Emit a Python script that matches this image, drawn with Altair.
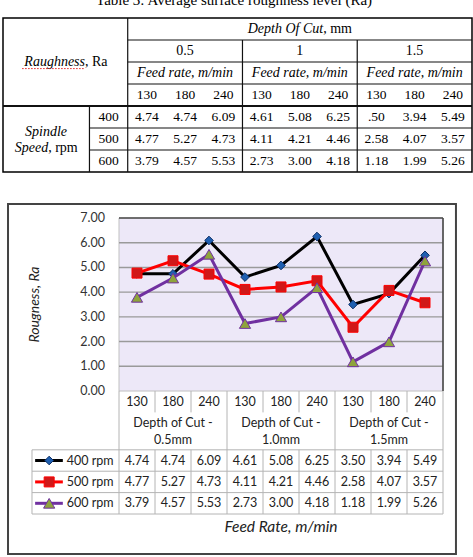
import altair as alt
import pandas as pd

# ---------------- data ----------------
depths = ["0.5", "1", "1.5"]
feed_rates = ["130", "180", "240"]
speeds = ["400 rpm", "500 rpm", "600 rpm"]
speed_numbers = ["400", "500", "600"]
ra_400 = [4.74, 4.74, 6.09, 4.61, 5.08, 6.25, 3.50, 3.94, 5.49]
ra_500 = [4.77, 5.27, 4.73, 4.11, 4.21, 4.46, 2.58, 4.07, 3.57]
ra_600 = [3.79, 4.57, 5.53, 2.73, 3.00, 4.18, 1.18, 1.99, 5.26]
top_row_400 = ["4.74", "4.74", "6.09", "4.61", "5.08", "6.25", ".50", "3.94", "5.49"]
top_row_500 = ["4.77", "5.27", "4.73", "4.11", "4.21", "4.46", "2.58", "4.07", "3.57"]
top_row_600 = ["3.79", "4.57", "5.53", "2.73", "3.00", "4.18", "1.18", "1.99", "5.26"]
y_ticks = [0, 1, 2, 3, 4, 5, 6, 7]
depth_axis_labels = ["0.5mm", "1.0mm", "1.5mm"]

series_colors = ["#000000", "#ff0000", "#7030a0"]
marker_fill = ["#1f5fb0", "#d01818", "#8ea43c"]
marker_stroke = ["#0e2f66", "#ff0000", "#7030a0"]
marker_shapes = ["diamond", "square", "triangle-up"]
marker_sizes = [75, 125, 100]

SERIF = "Liberation Serif"
SANS = "Lato"
FS = 12.5

# ---------------- scales ----------------
TX = alt.Scale(domain=[-3.26, 9], range=[3, 472], nice=False, zero=False)
TY = alt.Scale(domain=[0, 7], range=[18, 172], nice=False, zero=False)
CX = alt.Scale(domain=[0, 9], range=[119, 443], nice=False, zero=False)
CY = alt.Scale(domain=[0, 7], range=[391, 218], nice=False, zero=False)
RY = alt.Scale(domain=[0, 5.75], range=[391, 514], nice=False, zero=False)


def enc_xy(xf, yf, xs, ys):
    return dict(x=alt.X(f"{xf}:Q", scale=xs, axis=None),
                y=alt.Y(f"{yf}:Q", scale=ys, axis=None))


def text_layer(df, xs, ys, **kw):
    return alt.Chart(df).mark_text(**kw).encode(
        text="t:N", **enc_xy("x", "y", xs, ys))


def rule_layer(df, xs, ys, color, width=1, dash=None):
    kw = dict(color=color, strokeWidth=width)
    if dash:
        kw["strokeDash"] = dash
    return alt.Chart(df).mark_rule(**kw).encode(
        x=alt.X("x:Q", scale=xs, axis=None), x2="x2:Q",
        y=alt.Y("y:Q", scale=ys, axis=None), y2="y2:Q")


def rect_layer(df, xs, ys, **kw):
    return alt.Chart(df).mark_rect(**kw).encode(
        x=alt.X("x:Q", scale=xs, axis=None), x2="x2:Q",
        y=alt.Y("y:Q", scale=ys, axis=None), y2="y2:Q")


layers = []

# ================= top table =================
layers.append(text_layer(pd.DataFrame([{"x": 2.78, "y": -0.6,
                         "t": "Table 3:  Average surface roughness level (Ra)"}]),
                         TX, TY, font=SERIF, fontSize=15, baseline="alphabetic", color="#000"))

layers.append(rect_layer(pd.DataFrame([{"x": -3.26, "x2": 9, "y": 0, "y2": 7}]), TX, TY,
                         fill="white", stroke="#000", strokeWidth=1.5))

h_lines = [(1, 0, 9), (2, 0, 9), (3, 0, 9), (5, -1, 9), (6, -1, 9)]
layers.append(rule_layer(pd.DataFrame([{"y": y, "y2": y, "x": a, "x2": b} for y, a, b in h_lines]),
                         TX, TY, "#111", 1.1))
layers.append(rule_layer(pd.DataFrame([{"y": 4, "y2": 4, "x": -3.26, "x2": 9}]), TX, TY, "#111", 2))
v_lines = [(0, 0, 7), (3, 1, 7), (6, 1, 7), (-1, 4, 7)]
layers.append(rule_layer(pd.DataFrame([{"x": x, "x2": x, "y": a, "y2": b} for x, a, b in v_lines]),
                         TX, TY, "#111", 1.2))

# header texts
layers.append(text_layer(pd.DataFrame([{"x": 5.11, "y": 0.5, "t": "Depth Of Cut"}]), TX, TY,
                         font=SERIF, fontSize=14, fontStyle="italic", align="right", baseline="middle", color="#000"))
layers.append(text_layer(pd.DataFrame([{"x": 5.11, "y": 0.5, "t": ", mm"}]), TX, TY,
                         font=SERIF, fontSize=14, align="left", baseline="middle", color="#000"))
layers.append(text_layer(pd.DataFrame([{"x": 1.5 + 3 * g, "y": 1.5, "t": d} for g, d in enumerate(depths)]),
                         TX, TY, font=SERIF, fontSize=14, baseline="middle", color="#000"))
layers.append(text_layer(pd.DataFrame([{"x": 1.5 + 3 * g, "y": 2.5, "t": "Feed rate, m/min"} for g in range(3)]),
                         TX, TY, font=SERIF, fontSize=14, fontStyle="italic", baseline="middle", color="#000"))
layers.append(text_layer(pd.DataFrame([{"x": i + 0.5, "y": 3.5, "t": feed_rates[i % 3]} for i in range(9)]),
                         TX, TY, font=SERIF, fontSize=13.5, baseline="middle", color="#000"))
rows = []
for r, vals in enumerate([top_row_400, top_row_500, top_row_600]):
    for i, v in enumerate(vals):
        rows.append({"x": i + 0.5, "y": 4.5 + r, "t": v})
layers.append(text_layer(pd.DataFrame(rows), TX, TY, font=SERIF, fontSize=13.5, baseline="middle", color="#000"))
layers.append(text_layer(pd.DataFrame([{"x": -0.5, "y": 4.5 + r, "t": s} for r, s in enumerate(speed_numbers)]),
                         TX, TY, font=SERIF, fontSize=13.5, baseline="middle", color="#000"))
layers.append(text_layer(pd.DataFrame([{"x": -1.116, "y": 2.0, "t": "Raughness"}]), TX, TY,
                         font=SERIF, fontSize=14, fontStyle="italic", align="right", baseline="middle", color="#000"))
layers.append(text_layer(pd.DataFrame([{"x": -1.116, "y": 2.0, "t": ", Ra"}]), TX, TY,
                         font=SERIF, fontSize=14, align="left", baseline="middle", color="#000"))
layers.append(rule_layer(pd.DataFrame([{"x": -2.76, "x2": -1.15, "y": 2.3, "y2": 2.3}]), TX, TY,
                         "#e02020", 1, [1.5, 1.5]))
layers.append(text_layer(pd.DataFrame([{"x": -2.135, "y": 5.18, "t": "Spindle"}]), TX, TY,
                         font=SERIF, fontSize=14, fontStyle="italic", baseline="middle", color="#000"))
layers.append(text_layer(pd.DataFrame([{"x": -2.08, "y": 5.9, "t": "Speed"}]), TX, TY,
                         font=SERIF, fontSize=14, fontStyle="italic", align="right", baseline="middle", color="#000"))
layers.append(text_layer(pd.DataFrame([{"x": -2.08, "y": 5.9, "t": ", rpm"}]), TX, TY,
                         font=SERIF, fontSize=14, align="left", baseline="middle", color="#000"))

# ================= chart =================
# frame
layers.append(rect_layer(pd.DataFrame([{"x": -3.083, "x2": 9.36, "y": 7.567, "y2": -6.595}]), CX, CY,
                         fill="white", stroke="#444", strokeWidth=2))
# plot area
layers.append(rect_layer(pd.DataFrame([{"x": 0, "x2": 9, "y": 0, "y2": 7}]), CX, CY,
                         fill="#ede8f8", stroke="#c0c0c0", strokeWidth=1))
layers.append(rule_layer(pd.DataFrame([{"x": 0, "x2": 9, "y": t, "y2": t} for t in y_ticks[1:-1]]),
                         CX, CY, "#9a9a9a", 1.4))
layers.append(rule_layer(pd.DataFrame([{"x": 0, "x2": 9, "y": 7, "y2": 7},
                                       {"x": 9, "x2": 9, "y": 0, "y2": 7}]), CX, CY, "#4a4a4a", 1.6))
layers.append(text_layer(pd.DataFrame([{"x": -0.39, "y": t, "t": f"{t:.2f}"} for t in y_ticks]), CX, CY,
                         font=SANS, fontSize=FS, align="right", baseline="middle", color="#333"))
layers.append(text_layer(pd.DataFrame([{"x": -2.33, "y": 3.5, "t": "Rougness, Ra"}]), CX, CY,
                         font=SANS, fontSize=14, fontStyle="italic", angle=270, baseline="middle", color="#222"))

# data table under the chart
tv = [(x, 0, 5.75) for x in (0, 3, 6, 9)]
tv += [(x, 0, 1) for x in (1, 2, 4, 5, 7, 8)]
tv += [(x, 2.75, 5.75) for x in (1, 2, 4, 5, 7, 8)]
tv += [(-2.417, 2.75, 5.75)]
layers.append(rule_layer(pd.DataFrame([{"x": x, "x2": x, "y": a, "y2": b} for x, a, b in tv]),
                         CX, RY, "#b4b4b4", 1))
layers.append(rule_layer(pd.DataFrame([{"x": -2.417, "x2": 9, "y": y, "y2": y} for y in (2.75, 3.75, 4.75, 5.75)]),
                         CX, RY, "#b4b4b4", 1))
layers.append(text_layer(pd.DataFrame([{"x": i + 0.5, "y": 0.5, "t": feed_rates[i % 3]} for i in range(9)]),
                         CX, RY, font=SANS, fontSize=FS, baseline="middle", color="#222"))
layers.append(text_layer(pd.DataFrame([{"x": 1.5 + 3 * g, "y": 1.5, "t": "Depth of Cut -"} for g in range(3)]),
                         CX, RY, font=SANS, fontSize=FS, baseline="middle", color="#222"))
layers.append(text_layer(pd.DataFrame([{"x": 1.5 + 3 * g, "y": 2.29, "t": d} for g, d in enumerate(depth_axis_labels)]),
                         CX, RY, font=SANS, fontSize=FS, baseline="middle", color="#222"))
vals = []
for r, series in enumerate([ra_400, ra_500, ra_600]):
    for i, v in enumerate(series):
        vals.append({"x": i + 0.5, "y": 3.25 + r, "t": f"{v:.2f}"})
layers.append(text_layer(pd.DataFrame(vals), CX, RY, font=SANS, fontSize=FS, baseline="middle", color="#222"))
layers.append(text_layer(pd.DataFrame([{"x": -1.45, "y": 3.25 + r, "t": s} for r, s in enumerate(speeds)]),
                         CX, RY, font=SANS, fontSize=FS, align="left", baseline="middle", color="#222"))
layers.append(text_layer(pd.DataFrame([{"x": 4.5, "y": 6.36, "t": "Feed Rate, m/min"}]), CX, RY,
                         font=SANS, fontSize=15.5, fontStyle="italic", baseline="middle", color="#222"))

# legend keys
color_scale = alt.Scale(domain=speeds, range=series_colors)
fill_scale = alt.Scale(domain=speeds, range=marker_fill)
stroke_scale = alt.Scale(domain=speeds, range=marker_stroke)
shape_scale = alt.Scale(domain=speeds, range=marker_shapes)
size_scale = alt.Scale(domain=speeds, range=marker_sizes)

key_lines = pd.DataFrame([{"x": -2.33, "x2": -1.56, "y": 3.25 + r, "y2": 3.25 + r, "s": s}
                          for r, s in enumerate(speeds)])
layers.append(alt.Chart(key_lines).mark_rule(strokeWidth=3).encode(
    x=alt.X("x:Q", scale=CX, axis=None), x2="x2:Q",
    y=alt.Y("y:Q", scale=RY, axis=None), y2="y2:Q",
    color=alt.Color("s:N", scale=color_scale, legend=None)))
key_pts = pd.DataFrame([{"x": -1.94, "y": 3.25 + r, "s": s} for r, s in enumerate(speeds)])
layers.append(alt.Chart(key_pts).mark_point(filled=True, strokeWidth=1, opacity=1).encode(
    x=alt.X("x:Q", scale=CX, axis=None),
    y=alt.Y("y:Q", scale=RY, axis=None),
    fill=alt.Fill("s:N", scale=fill_scale, legend=None),
    stroke=alt.Stroke("s:N", scale=stroke_scale, legend=None),
    shape=alt.Shape("s:N", scale=shape_scale, legend=None),
    size=alt.Size("s:N", scale=size_scale, legend=None)))

# series
for s, series in zip(speeds, [ra_400, ra_500, ra_600]):
    df = pd.DataFrame({"x": [i + 0.5 for i in range(9)], "y": series, "s": [s] * 9})
    layers.append(alt.Chart(df).mark_line(strokeWidth=3).encode(
        x=alt.X("x:Q", scale=CX, axis=None),
        y=alt.Y("y:Q", scale=CY, axis=None),
        color=alt.Color("s:N", scale=color_scale, legend=None)))
    layers.append(alt.Chart(df).mark_point(filled=True, strokeWidth=1, opacity=1).encode(
        x=alt.X("x:Q", scale=CX, axis=None),
        y=alt.Y("y:Q", scale=CY, axis=None),
        fill=alt.Fill("s:N", scale=fill_scale, legend=None),
        stroke=alt.Stroke("s:N", scale=stroke_scale, legend=None),
        shape=alt.Shape("s:N", scale=shape_scale, legend=None),
        size=alt.Size("s:N", scale=size_scale, legend=None)))

chart = alt.layer(*layers).resolve_scale(x="independent", y="independent").properties(
    width=473, height=557, autosize=alt.AutoSizeParams(type="none"), padding=0,
    background="white"
).configure_view(strokeWidth=0)

chart.save("out.html", embed_options={"renderer": "svg", "actions": False})
